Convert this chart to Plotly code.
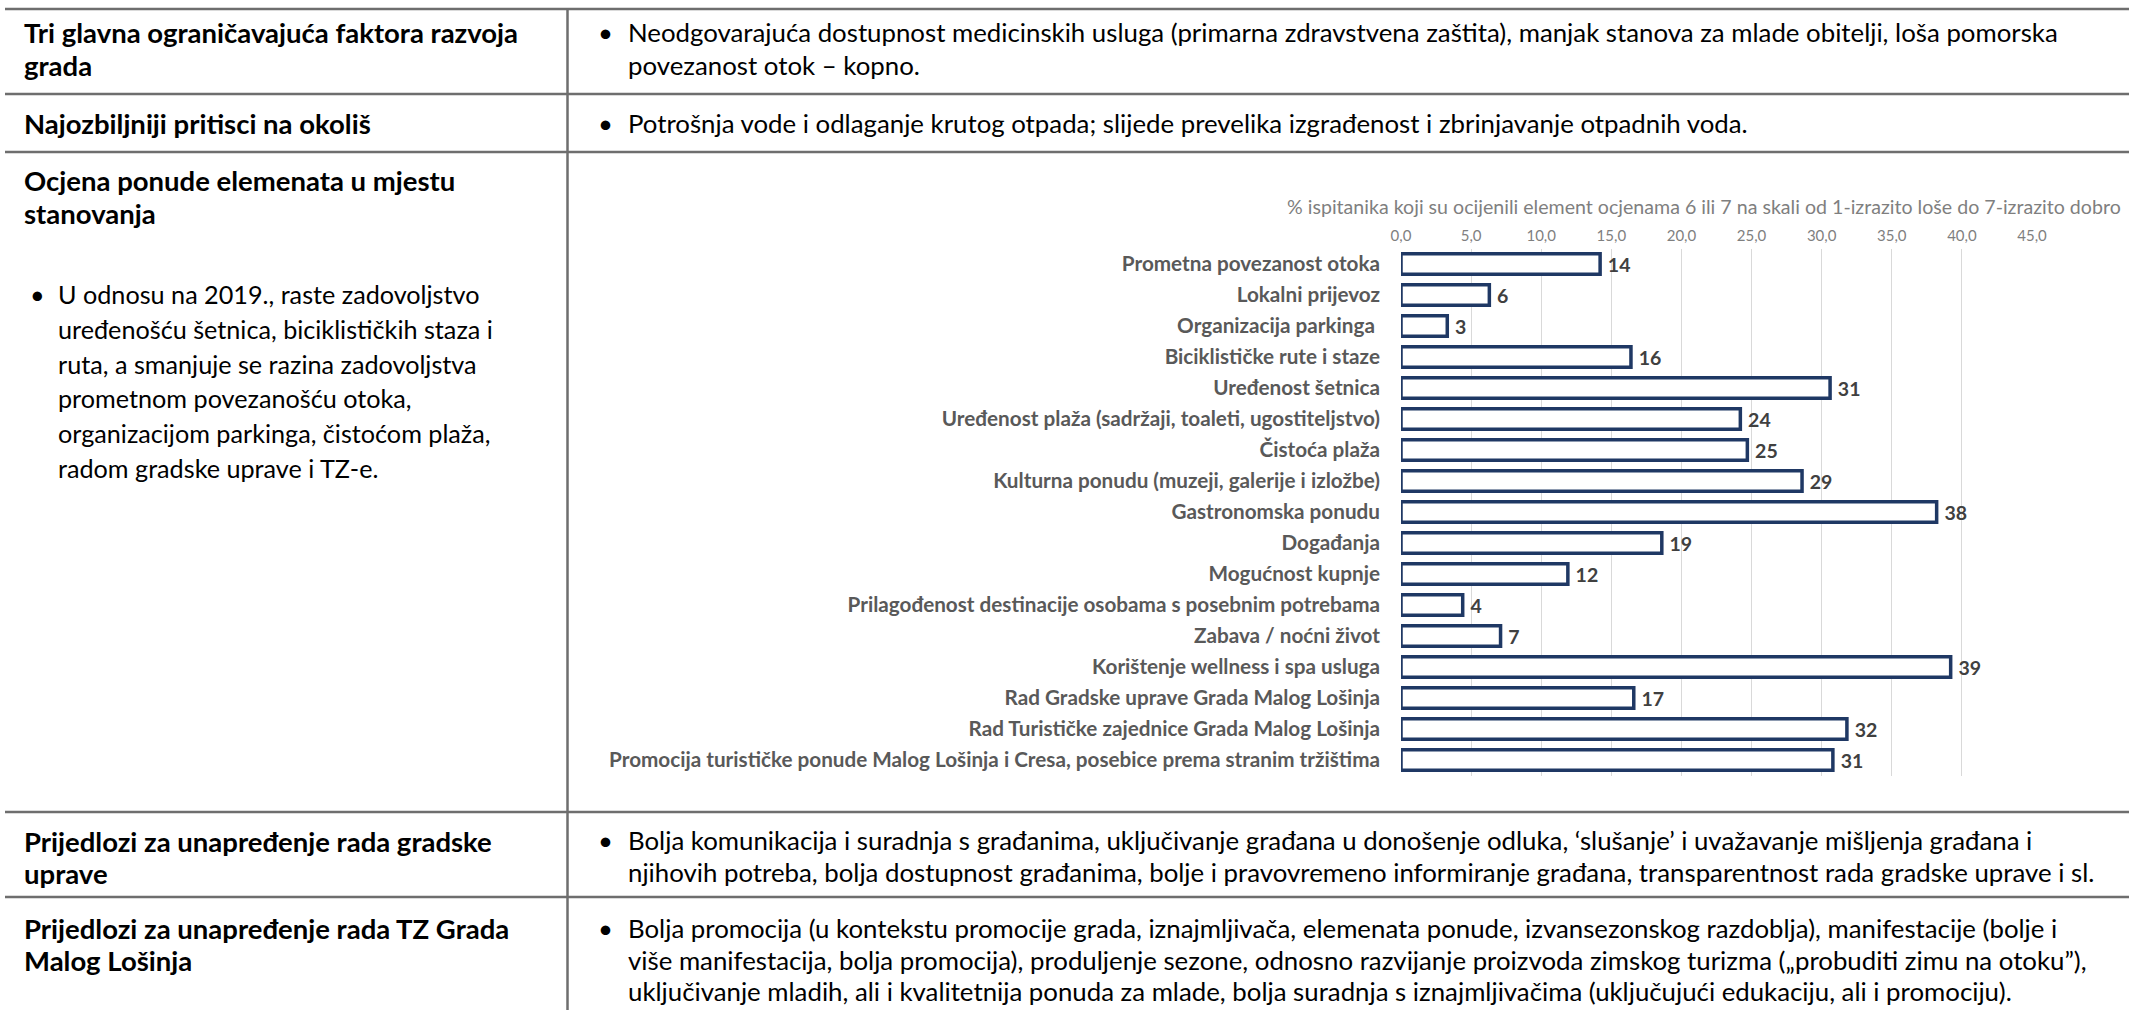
import plotly.graph_objects as go

W, H = 2129, 1010
FONT = "Lato, 'Noto Sans', sans-serif"

# ---------------- data ----------------
categories = [
    "Prometna povezanost otoka",
    "Lokalni prijevoz",
    "Organizacija parkinga\u00a0",
    "Biciklističke rute i staze",
    "Uređenost šetnica",
    "Uređenost plaža (sadržaji, toaleti, ugostiteljstvo)",
    "Čistoća plaža",
    "Kulturna ponudu (muzeji, galerije i izložbe)",
    "Gastronomska ponudu",
    "Događanja",
    "Mogućnost kupnje",
    "Prilagođenost destinacije osobama s posebnim potrebama",
    "Zabava / noćni život",
    "Korištenje wellness i spa usluga",
    "Rad Gradske uprave Grada Malog Lošinja",
    "Rad Turističke zajednice Grada Malog Lošinja",
    "Promocija turističke ponude Malog Lošinja i Cresa, posebice prema stranim tržištima",
]
values = [14.2, 6.3, 3.3, 16.4, 30.6, 24.2, 24.7, 28.6, 38.2, 18.6, 11.9, 4.4, 7.1, 39.2, 16.6, 31.8, 30.8]

tick_values = [0, 5, 10, 15, 20, 25, 30, 35, 40, 45]
tick_labels = ["0,0", "5,0", "10,0", "15,0", "20,0", "25,0", "30,0", "35,0", "40,0", "45,0"]

chart_title = ("% ispitanika koji su ocijenili element ocjenama 6 ili 7 na skali od "
               "1-izrazito loše do 7-izrazito dobro")

row1_head = ["Tri glavna ograničavajuća faktora razvoja", "grada"]
row1_text = ["Neodgovarajuća dostupnost medicinskih usluga (primarna zdravstvena zaštita), "
             "manjak stanova za mlade obitelji, loša pomorska",
             "povezanost otok – kopno."]
row2_head = ["Najozbiljniji pritisci na okoliš"]
row2_text = ["Potrošnja vode i odlaganje krutog otpada; slijede prevelika izgrađenost i "
             "zbrinjavanje otpadnih voda."]
row3_head = ["Ocjena ponude elemenata u mjestu", "stanovanja"]
row3_bullet = ["U odnosu na 2019., raste zadovoljstvo",
               "uređenošću šetnica, biciklističkih staza i",
               "ruta, a smanjuje se razina zadovoljstva",
               "prometnom povezanošću otoka,",
               "organizacijom parkinga, čistoćom plaža,",
               "radom gradske uprave i TZ-e."]
row4_head = ["Prijedlozi za unapređenje rada gradske", "uprave"]
row4_text = ["Bolja komunikacija i suradnja s građanima, uključivanje građana u donošenje "
             "odluka, ‘slušanje’ i uvažavanje mišljenja građana i",
             "njihovih potreba, bolja dostupnost građanima, bolje i pravovremeno informiranje "
             "građana, transparentnost rada gradske uprave i sl."]
row5_head = ["Prijedlozi za unapređenje rada TZ Grada", "Malog Lošinja"]
row5_text = ["Bolja promocija (u kontekstu promocije grada, iznajmljivača, elemenata ponude, "
             "izvansezonskog razdoblja), manifestacije (bolje i",
             "više manifestacija, bolja promocija), produljenje sezone, odnosno razvijanje "
             "proizvoda zimskog turizma („probuditi zimu na otoku”),",
             "uključivanje mladih, ali i kvalitetnija ponuda za mlade, bolja suradnja s "
             "iznajmljivačima (uključujući edukaciju, ali i promociju)."]


def px(x):
    return x / W


def py(y):
    return 1 - y / H


# ---------------- chart ----------------
fig = go.Figure(
    go.Bar(
        x=values,
        y=categories,
        orientation="h",
        marker=dict(color="white", line=dict(color="#1f3864", width=3.5)),
        texttemplate="\u00a0%{x:.0f}",
        textposition="outside",
        cliponaxis=False,
        constraintext="none",
        textfont=dict(family=FONT, size=19.5, color="#404040", weight="bold"),
        hoverinfo="skip",
    )
)

PLOT_L, PLOT_R = 1401, 2032
PLOT_T, PLOT_B = 248.5, 775.5

fig.update_layout(
    width=W,
    height=H,
    margin=dict(l=0, r=0, t=0, b=0),
    paper_bgcolor="white",
    plot_bgcolor="white",
    showlegend=False,
    bargap=0.34,
    xaxis=dict(
        domain=[px(PLOT_L), px(PLOT_R)],
        range=[0, 45],
        side="top",
        tickmode="array",
        tickvals=tick_values,
        ticktext=tick_labels,
        showgrid=True,
        gridcolor="#d9d9d9",
        gridwidth=1,
        zeroline=False,
        showline=False,
        ticks="",
        ticklabelstandoff=4,
        tickfont=dict(family=FONT, size=15, color="#7f7f7f"),
        fixedrange=True,
        automargin=False,
    ),
    yaxis=dict(
        domain=[py(PLOT_B), py(PLOT_T)],
        type="category",
        autorange="reversed",
        showgrid=False,
        zeroline=False,
        showline=False,
        ticks="",
        ticklabelstandoff=20,
        tickfont=dict(family=FONT, size=20.7, color="#595959", weight="bold"),
        fixedrange=True,
        automargin=False,
    ),
)

# ---------------- table lines ----------------
LINE = dict(color="#6e6e6e", width=2.5)
shapes = []
for yy in [9, 94, 152, 812, 897]:
    shapes.append(dict(type="line", xref="paper", yref="paper",
                       x0=px(5), x1=px(W), y0=py(yy), y1=py(yy), line=LINE))
shapes.append(dict(type="line", xref="paper", yref="paper",
                   x0=px(567.5), x1=px(567.5), y0=py(9), y1=py(H), line=LINE))
fig.update_layout(shapes=shapes)

# ---------------- text ----------------
annotations = []


def add_text(text, x, y, size, bold=False, color="#000000", xanchor="left"):
    annotations.append(dict(
        text=text, x=px(x), y=py(y), xref="paper", yref="paper",
        xanchor=xanchor, yanchor="middle", showarrow=False, align="left",
        font=dict(family=FONT, size=size, color=color, weight="bold" if bold else "normal"),
    ))


HEAD_X = 22
HEAD_SIZE = 27.5
TEXT_SIZE = 25.8
BUL_X = 596
TXT_X = 626


def add_lines(lines, x, y0, step, size, bold=False):
    for i, t in enumerate(lines):
        add_text(t, x, y0 + i * step, size, bold)


def add_bullet(lines, bx, tx, y0, step, size):
    add_text("•", bx, y0, size)
    add_lines(lines, tx, y0, step, size)


add_lines(row1_head, HEAD_X, 32, 33, HEAD_SIZE, bold=True)
add_bullet(row1_text, BUL_X, TXT_X, 32, 33, TEXT_SIZE)

add_lines(row2_head, HEAD_X, 123, 33, HEAD_SIZE, bold=True)
add_bullet(row2_text, BUL_X, TXT_X, 123, 33, TEXT_SIZE)

add_lines(row3_head, HEAD_X, 181, 33, HEAD_SIZE, bold=True)
add_bullet(row3_bullet, 28, 56, 294, 34.8, 25.2)

add_lines(row4_head, HEAD_X, 841, 32, HEAD_SIZE, bold=True)
add_bullet(row4_text, BUL_X, TXT_X, 840, 31.5, TEXT_SIZE)

add_lines(row5_head, HEAD_X, 928, 32, HEAD_SIZE, bold=True)
add_bullet(row5_text, BUL_X, TXT_X, 928, 31.5, TEXT_SIZE)

# chart title
add_text(chart_title, (1287 + 2120) / 2, 207, 19.6, color="#7f7f7f", xanchor="center")

fig.update_layout(annotations=annotations)

fig.write_html(
    "out.html",
    config={"displayModeBar": False, "staticPlot": True},
    post_script="document.body.style.margin='0';document.body.style.overflow='hidden';",
)
